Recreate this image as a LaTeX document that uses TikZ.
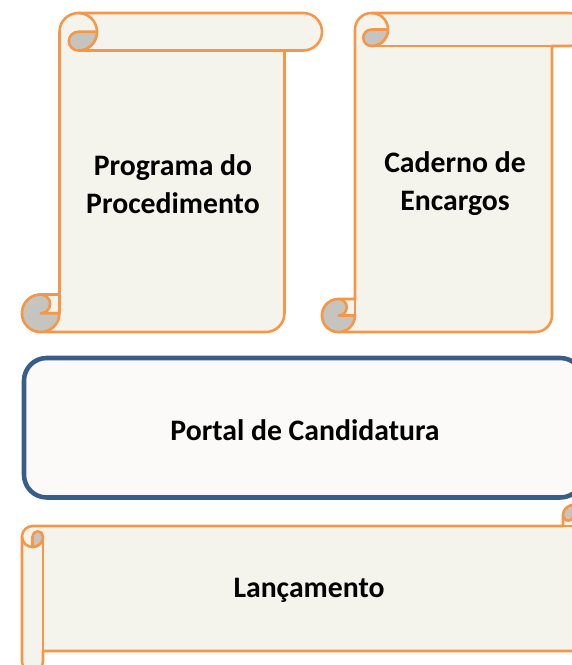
\documentclass[tikz,border=0pt]{standalone}
\usepackage{fontspec}
\setmainfont{Carlito}
\usepackage{tikz}
\usetikzlibrary{calc}
\definecolor{scrollorange}{RGB}{247,150,70}
\definecolor{scrollfill}{RGB}{244,243,236}
\definecolor{curlgray}{RGB}{197,196,190}
\definecolor{portalblue}{RGB}{56,93,138}
\definecolor{portalfill}{RGB}{251,250,248}

% scroll sheet: left, top, right, bottom, roll size (pixels, y downwards)
\newcommand{\scrollsheet}[5]{%
  \pgfmathsetmacro{\scL}{#1}%
  \pgfmathsetmacro{\scT}{#2}%
  \pgfmathsetmacro{\scR}{#3}%
  \pgfmathsetmacro{\scB}{#4}%
  \pgfmathsetmacro{\scC}{#5}%
  \pgfmathsetmacro{\scH}{#5/2}%
  \pgfmathsetmacro{\scQ}{#5/4}%
  % sheet outline
  \filldraw[sheet] (\scL+\scC, \scB-\scC) -- (\scL+\scC, \scT+\scH)
    arc[start angle=180, delta angle=90, radius=\scH] -- (\scR-\scH, \scT)
    arc[start angle=270, delta angle=180, radius=\scH] -- (\scR-\scC, \scT+\scC)
    -- (\scR-\scC, \scB-\scH)
    arc[start angle=0, delta angle=90, radius=\scH] -- (\scL+\scH, \scB)
    arc[start angle=90, delta angle=180, radius=\scH] -- cycle;
  % upper roll
  \draw[sheetline] (\scL+1.5*\scC, \scT+\scC) -- (\scR-\scC, \scT+\scC);
  \draw[sheetline] (\scL+1.5*\scC, \scT) arc[start angle=270, delta angle=180, radius=\scH];
  \filldraw[curlpart] (\scL+2*\scC, \scT+\scH)
    arc[start angle=0, delta angle=90, radius=\scH]
    arc[start angle=90, delta angle=180, radius=\scQ] -- cycle;
  % lower roll
  \draw[sheetline] (\scL+\scC, \scB-\scC) -- (\scL+\scC, \scB-\scH);
  \filldraw[curlpart] (\scL+\scC, \scB-\scH)
    arc[start angle=0, delta angle=270, radius=\scH]
    arc[start angle=270, delta angle=180, radius=\scQ] -- cycle;
}

\begin{document}
\begin{tikzpicture}[x=0.75pt, y=-0.75pt,
  sheet/.style={draw=scrollorange, fill=scrollfill, line width=1.9pt, line join=round},
  sheetline/.style={draw=scrollorange, line width=1.9pt},
  curlpart/.style={draw=scrollorange, fill=curlgray, line width=1.9pt, line join=round},
  portalbox/.style={draw=portalblue, fill=portalfill, line width=3.4pt, rounded corners=17pt},
  sheettext/.style={font=\fontsize{22.3}{28.5}\selectfont\bfseries, align=center, text=black}]

\useasboundingbox (0,0) rectangle (572,665);
\clip (0,0) rectangle (572,665);

% Vertical scrolls
\scrollsheet{22}{13}{322}{332}{37.5}
\scrollsheet{322}{13}{585}{332}{33}
\node[sheettext] (programa) at (173,184) {Programa do\\Procedimento};
\node[sheettext] (caderno) at (455,184) {Caderno de\\Encargos};

% Portal
\draw[portalbox] (24,358) rectangle (583,497.5);
\node[sheettext] (portal) at (305,430) {Portal de Candidatura};

% Horizontal scroll (vertical one turned over)
\begin{scope}[cm={0,-1,-1,0,(0,0)}]
\scrollsheet{505}{22}{672}{584}{21}
\end{scope}
\node[sheettext] (lancamento) at (309,590) {Lançamento};

\end{tikzpicture}
\end{document}
